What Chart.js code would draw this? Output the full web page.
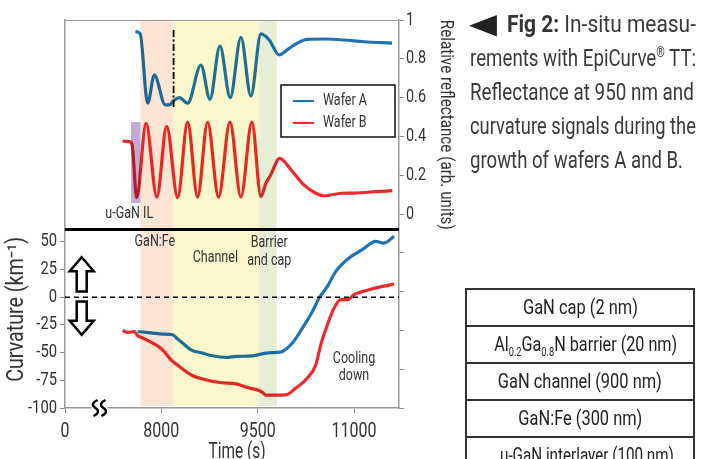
<!DOCTYPE html>
<html>
<head>
<meta charset="utf-8">
<script src="https://cdn.jsdelivr.net/npm/chart.js@4.4.1/dist/chart.umd.min.js"></script>
<style>
body{margin:0;width:712px;height:459px;overflow:hidden;background:#fff;position:relative;font-family:Roboto,sans-serif;color:#3a3a3a}
#c{position:absolute;left:0;top:0}
.fit{display:inline-block;white-space:nowrap;transform-origin:0 50%}
#caption{position:absolute;left:470px;top:7px;font-size:24px;line-height:34px}
#caption .row{height:34px;white-space:nowrap;position:relative}
#caption b{font-weight:bold;color:#333}
#tri{position:absolute;left:-1px;top:0;font-family:'DejaVu Sans',sans-serif;font-size:28px;color:#222;transform:scaleX(1.3);transform-origin:0 50%}
#stack{position:absolute;left:465px;top:288px;width:226px;border:2px solid #333;border-bottom:none}
#stack div{height:35px;border-bottom:2px solid #333;text-align:center;line-height:35px;font-size:21px;color:#222}
#stack .fit{transform-origin:50% 50%}
#stack sub{font-size:12px;vertical-align:-5px;line-height:0}
</style>
</head>
<body>
<canvas id="c" width="712" height="459"></canvas>
<div id="caption">
<div class="row"><span id="tri">&#9664;</span><span class="fit" data-w="189" style="margin-left:37px"><b>Fig 2:</b> In-situ measu-</span></div>
<div class="row"><span class="fit" data-w="226">rements with EpiCurve<sup style="font-size:14px;line-height:0">&reg;</sup> TT:</span></div>
<div class="row"><span class="fit" data-w="224">Reflectance at 950 nm and</span></div>
<div class="row"><span class="fit" data-w="226">curvature signals during the</span></div>
<div class="row"><span class="fit" data-w="213">growth of wafers A and B.</span></div>
</div>
<div id="stack">
<div><span class="fit" data-w="115">GaN cap (2 nm)</span></div>
<div><span class="fit" data-w="183">Al<sub>0.2</sub>Ga<sub>0.8</sub>N barrier (20 nm)</span></div>
<div><span class="fit" data-w="164">GaN channel (900 nm)</span></div>
<div><span class="fit" data-w="124">GaN:Fe (300 nm)</span></div>
<div><span class="fit" data-w="174">u-GaN interlayer (100 nm)</span></div>
</div>
<script>
// reflectance at 950 nm (arb. units)
var reflTimeA = [7596, 7669, 7787, 7891, 8062, 8124, 8202, 8280, 8409, 8617, 8757, 8912, 9072, 9239, 9394, 9550, 9679, 9834, 9990, 10114, 10269, 10560, 10845, 11155, 11591];
var reflA     = [0.94, 0.93, 0.571, 0.716, 0.562, 0.562, 0.588, 0.60, 0.571, 0.768, 0.591, 0.866, 0.60, 0.911, 0.608, 0.928, 0.897, 0.820, 0.854, 0.880, 0.900, 0.902, 0.897, 0.888, 0.881];
var reflTimeB = [7398, 7503, 7545, 7616, 7762, 7930, 8083, 8254, 8409, 8564, 8720, 8891, 9068, 9239, 9410, 9550, 9627, 9700, 9842, 10021, 10223, 10405, 10534, 10813, 11000, 11337, 11595];
var reflB     = [0.376, 0.373, 0.356, 0.084, 0.467, 0.087, 0.452, 0.084, 0.474, 0.087, 0.473, 0.087, 0.474, 0.087, 0.474, 0.09, 0.158, 0.20, 0.287, 0.227, 0.149, 0.107, 0.094, 0.107, 0.108, 0.115, 0.12];
// curvature (km-1)
var curvTimeA = [7632, 7865, 8020, 8176, 8254, 8331, 8462, 8642, 8797, 9006, 9161, 9420, 9627, 9834, 9886, 10041, 10196, 10352, 10456, 10585, 10716, 10922, 11129, 11337, 11466, 11622];
var curvA     = [-31, -32.4, -33.3, -33.9, -37.8, -41.4, -47.5, -50.5, -52.9, -54.4, -53.5, -52.9, -50.5, -49.6, -49, -41.4, -27.9, -12.9, -0.8, 9.7, 23.2, 35.3, 42.8, 50.3, 48.8, 54.8];
var curvTimeB = [7398, 7476, 7580, 7632, 7709, 7865, 8020, 8151, 8280, 8487, 8695, 8902, 9161, 9368, 9523, 9575, 9627, 9938, 10094, 10274, 10405, 10482, 10585, 10689, 10793, 10896, 11000, 11233, 11440, 11622];
var curvB     = [-30, -31.8, -31, -34.8, -36.9, -41.4, -47.5, -56.5, -62.5, -70.9, -74.5, -77, -78.2, -82, -84.2, -86, -88.4, -88.1, -82, -73, -61, -43, -24.9, -9.9, -2.3, -2.3, 2.2, 6.7, 9.7, 11.8];
// axes
var timeTicks = [6500, 8000, 9500, 11000];   // 6500 is printed as "0" (broken axis)
var curvTicks = [50, 25, 0, -25, -50, -75, -100];
var reflTicks = [1, 0.8, 0.6, 0.4, 0.2, 0, -0.2, -0.4, -0.6, -0.8, -1];
// growth phases (s): GaN:Fe | channel | barrier and cap
var phaseEdges = [7674, 8191, 9523, 9798];
var uganIL = [7529, 7674];

var BLUE = "#1f72b8", RED = "#ec2a2a";
var FONT = "Roboto, 'Liberation Sans', sans-serif";
var NARROW = 0.78;   // the print uses a condensed face
Chart.defaults.font.family = FONT;
Chart.defaults.color = "#333";

function pts(t, v) {
  var out = [];
  for (var i = 0; i < t.length; i++) out.push({x: t[i], y: v[i]});
  return out;
}
function line(label, data, axis, color) {
  return {label: label, data: data, yAxisID: axis, borderColor: color, backgroundColor: color,
    borderWidth: 3.2, pointRadius: 0, fill: false, cubicInterpolationMode: "monotone"};
}
function setTicks(list) {
  return function(s) { s.ticks = list.map(function(v){ return {value: v}; }); };
}
// condensed text: k squeezes along the writing direction, fitW forces a width
function text(ctx, s, x, y, size, align, k, rot, fitW) {
  ctx.save();
  ctx.translate(x, y);
  if (rot) ctx.rotate(rot);
  ctx.font = size + "px " + FONT;
  if (fitW) k = fitW / ctx.measureText(s).width;
  ctx.scale(k || NARROW, 1);
  ctx.textAlign = align || "center";
  ctx.textBaseline = "middle";
  ctx.fillText(s, 0, 0);
  ctx.restore();
}
function fmtTime(v) { return v === 6500 ? "0" : String(v); }
function fmtRefl(v) { return v >= 0 ? String(Math.round(v * 10) / 10) : ""; }

function hollowArrow(ctx, cx, yTip, yEnd) {
  var dir = yEnd > yTip ? 1 : -1, head = 14 * dir;
  ctx.beginPath();
  ctx.moveTo(cx, yTip);
  ctx.lineTo(cx + 12, yTip + head);
  ctx.lineTo(cx + 5, yTip + head);
  ctx.lineTo(cx + 5, yEnd);
  ctx.lineTo(cx - 5, yEnd);
  ctx.lineTo(cx - 5, yTip + head);
  ctx.lineTo(cx - 12, yTip + head);
  ctx.closePath();
  ctx.fillStyle = "#fff";
  ctx.fill();
  ctx.lineWidth = 2.5;
  ctx.strokeStyle = "#000";
  ctx.stroke();
}

var decor = {
  id: "decor",
  beforeDatasetsDraw: function(chart) {
    var ctx = chart.ctx, a = chart.chartArea, x = chart.scales.x, yR = chart.scales.yR;
    var cols = ["#fde4d3", "#faf7cc", "#e6efd6"];
    ctx.save();
    for (var i = 0; i < cols.length; i++) {
      var x0 = x.getPixelForValue(phaseEdges[i]), x1 = x.getPixelForValue(phaseEdges[i + 1]);
      ctx.fillStyle = cols[i];
      ctx.fillRect(x0, a.top, x1 - x0, a.bottom - a.top - 2);
    }
    // u-GaN interlayer marker
    ctx.fillStyle = "#c3a8d4";
    var p0 = x.getPixelForValue(uganIL[0]), p1 = x.getPixelForValue(uganIL[1]);
    ctx.fillRect(p0, yR.getPixelForValue(0.474), p1 - p0, yR.getPixelForValue(0.057) - yR.getPixelForValue(0.474));
    ctx.restore();
    // lines blend with the shading like in the print
    ctx.save();
    ctx.globalCompositeOperation = "multiply";
  },
  afterDatasetsDraw: function(chart) {
    chart.ctx.restore();
  },
  afterDraw: function(chart) {
    var ctx = chart.ctx, a = chart.chartArea, x = chart.scales.x, yL = chart.scales.yL, yR = chart.scales.yR;
    ctx.save();
    // frame top
    ctx.strokeStyle = "#999";
    ctx.lineWidth = 1;
    ctx.beginPath(); ctx.moveTo(a.left, a.top + 0.5); ctx.lineTo(a.right, a.top + 0.5); ctx.stroke();
    // separator between panels
    ctx.strokeStyle = "#000";
    ctx.lineWidth = 3;
    var ys = yL.getPixelForValue(61);
    ctx.beginPath(); ctx.moveTo(a.left, ys); ctx.lineTo(a.right, ys); ctx.stroke();
    // zero curvature
    ctx.lineWidth = 1.5;
    ctx.setLineDash([5, 4]);
    var y0 = yL.getPixelForValue(0);
    ctx.beginPath(); ctx.moveTo(a.left, y0); ctx.lineTo(a.right, y0); ctx.stroke();
    // end of GaN:Fe marker
    ctx.lineWidth = 1.8;
    ctx.setLineDash([7, 2.5, 2, 2.5]);
    var xm = x.getPixelForValue(phaseEdges[1]);
    ctx.beginPath(); ctx.moveTo(xm, yR.getPixelForValue(0.948)); ctx.lineTo(xm, yR.getPixelForValue(0.552)); ctx.stroke();
    ctx.setLineDash([]);

    // tick labels
    ctx.fillStyle = "#333";
    x.ticks.forEach(function(t) { text(ctx, fmtTime(t.value), x.getPixelForValue(t.value), a.bottom + 24, 20, "center", 0.8); });
    yL.ticks.forEach(function(t) { text(ctx, String(t.value), a.left - 8, yL.getPixelForValue(t.value), 18, "right", 0.82); });
    yR.ticks.forEach(function(t) { text(ctx, fmtRefl(t.value), a.right + 7, yR.getPixelForValue(t.value), 18, "left", 0.8); });

    // legend
    var lx = a.right - 118, ly = 85;
    ctx.fillStyle = "#fff";
    ctx.fillRect(lx, ly, 114, 52);
    ctx.lineWidth = 1.5;
    ctx.strokeStyle = "#111";
    ctx.strokeRect(lx, ly, 114, 52);
    var sets = chart.data.datasets.slice(0, 2);
    for (var i = 0; i < sets.length; i++) {
      var yy = ly + 16 + i * 22;
      ctx.strokeStyle = sets[i].borderColor;
      ctx.lineWidth = 2;
      ctx.beginPath(); ctx.moveTo(lx + 12, yy); ctx.lineTo(lx + 33, yy); ctx.stroke();
      ctx.fillStyle = "#333";
      text(ctx, sets[i].label, lx + 42, yy, 16, "left");
    }

    // phase labels
    ctx.fillStyle = "#333";
    text(ctx, "u-GaN IL", x.getPixelForValue(7500), yR.getPixelForValue(0.0), 16);
    text(ctx, "GaN:Fe", x.getPixelForValue(7900), yL.getPixelForValue(50), 16);
    text(ctx, "Channel", x.getPixelForValue(8840), yL.getPixelForValue(35.5), 16);
    text(ctx, "Barrier", x.getPixelForValue(9680), yL.getPixelForValue(49), 16);
    text(ctx, "and cap", x.getPixelForValue(9680), yL.getPixelForValue(33), 16);
    text(ctx, "Cooling", x.getPixelForValue(11000), yL.getPixelForValue(-55.5), 16);
    text(ctx, "down", x.getPixelForValue(11000), yL.getPixelForValue(-71), 16);

    // tensile / compressive arrows
    var xa = x.getPixelForValue(6760);
    hollowArrow(ctx, xa, yL.getPixelForValue(36), yL.getPixelForValue(5));
    hollowArrow(ctx, xa, yL.getPixelForValue(-34), yL.getPixelForValue(-4));

    // axis break
    var xb = x.getPixelForValue(7037), yb = a.bottom;
    ctx.fillStyle = "#fff";
    ctx.fillRect(xb - 8, yb - 3, 16, 6);
    ctx.strokeStyle = "#000";
    ctx.lineWidth = 2.4;
    [-4, 4].forEach(function(d) {
      var cx = xb + d;
      ctx.beginPath();
      ctx.moveTo(cx + 2, yb - 8);
      ctx.quadraticCurveTo(cx - 6, yb - 4, cx, yb);
      ctx.quadraticCurveTo(cx + 6, yb + 4, cx - 2, yb + 8);
      ctx.stroke();
    });

    // axis titles
    ctx.fillStyle = "#333";
    text(ctx, "Time (s)", (a.left + a.right) / 2 + 5, a.bottom + 44, 22, "center", 0, 0, 57);
    text(ctx, "Curvature (km\u207B\u00B9)", 17, yL.getPixelForValue(-11), 23, "center", 0, -Math.PI / 2, 145);
    text(ctx, "Relative reflectance (arb. units)", 446, (a.top + ys) / 2, 19, "center", 0, Math.PI / 2, 210);
    ctx.restore();
  }
};

new Chart(document.getElementById("c"), {
  type: "line",
  data: {
    datasets: [
      line("Wafer A", pts(reflTimeA, reflA), "yR", BLUE),
      line("Wafer B", pts(reflTimeB, reflB), "yR", RED),
      line("Wafer A curvature", pts(curvTimeA, curvA), "yL", BLUE),
      line("Wafer B curvature", pts(curvTimeB, curvB), "yL", RED)
    ]
  },
  options: {
    responsive: false,
    animation: false,
    devicePixelRatio: 1,
    layout: {padding: {top: 20, left: 0, right: 0, bottom: 0}},
    plugins: {legend: {display: false}, tooltip: {enabled: false}},
    scales: {
      x: {
        type: "linear", position: "bottom", min: 6500, max: 11700, bounds: "data",
        afterBuildTicks: setTicks(timeTicks),
        afterFit: function(s) { s.height = 51; },
        ticks: {display: false},
        grid: {drawOnChartArea: false, tickLength: 5, color: "#888"},
        border: {color: "#999", width: 1.5}
      },
      yL: {
        type: "linear", position: "left", min: -100, max: 250, bounds: "data",
        afterBuildTicks: setTicks(curvTicks),
        afterFit: function(s) { s.width = 65; },
        ticks: {display: false},
        grid: {drawOnChartArea: false, tickLength: 5, color: "#888"},
        border: {color: "#999", width: 1.5}
      },
      yR: {
        type: "linear", position: "right", min: -1, max: 1, bounds: "data",
        afterBuildTicks: setTicks(reflTicks),
        afterFit: function(s) { s.width = 313; },
        ticks: {display: false},
        grid: {drawOnChartArea: false, tickLength: 5, color: "#888"},
        border: {color: "#999", width: 1.5}
      }
    }
  },
  plugins: [decor]
});

// squeeze the html text to the condensed widths of the print
document.querySelectorAll(".fit").forEach(function(el) {
  var w = +el.getAttribute("data-w"), nat = el.getBoundingClientRect().width;
  el.style.transform = "scaleX(" + (w / nat).toFixed(3) + ")";
});
</script>
</body>
</html>
